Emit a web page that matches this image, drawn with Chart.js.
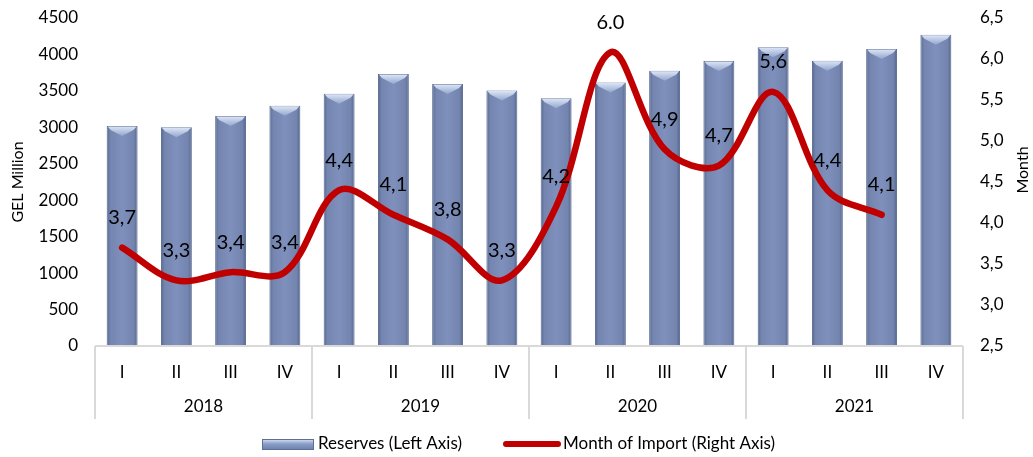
<!DOCTYPE html>
<html>
<head>
<meta charset="utf-8">
<script src="https://cdn.jsdelivr.net/npm/chart.js@4.4.1/dist/chart.umd.min.js"></script>
<style>
  html, body { margin: 0; padding: 0; background: #ffffff; }
  #wrap { width: 1033px; height: 457px; }
</style>
</head>
<body>
<div id="wrap"><canvas id="c" width="1033" height="457"></canvas></div>
<script>
const categories = ['I','II','III','IV','I','II','III','IV','I','II','III','IV','I','II','III','IV'];
const years = ['2018','2019','2020','2021'];
const reserves = [3020, 3000, 3155, 3295, 3460, 3730, 3595, 3505, 3400, 3615, 3775, 3910, 4100, 3915, 4075, 4270];
const monthsOfImport = [3.7, 3.3, 3.4, 3.4, 4.4, 4.1, 3.8, 3.3, 4.2, 6.08, 4.9, 4.7, 5.6, 4.4, 4.1, null];
const importLabels = ['3,7','3,3','3,4','3,4','4,4','4,1','3,8','3,3','4,2','6.0','4,9','4,7','5,6','4,4','4,1',''];
const seriesNames = ['Reserves (Left Axis)', 'Month of Import (Right Axis)'];
const leftTitle = 'GEL Million';
const rightTitle = 'Month';

const FONT = 'Lato, "Open Sans", sans-serif';
const TEXT = '#000000';
const BAR_PCT = 0.57;

function barFill(ctx) {
  const chart = ctx.chart;
  const xs = chart.scales.x;
  if (!xs || ctx.dataIndex === undefined) return '#7a8cb6';
  const cx = xs.getPixelForValue(ctx.dataIndex);
  const half = (xs.width / categories.length) * BAR_PCT / 2;
  if (!isFinite(cx) || !isFinite(half) || half <= 0) return '#7a8cb6';
  const g = chart.ctx.createLinearGradient(cx - half, 0, cx + half, 0);
  g.addColorStop(0, '#56678f');
  g.addColorStop(0.12, '#7485b0');
  g.addColorStop(0.5, '#7e90bb');
  g.addColorStop(0.88, '#7384af');
  g.addColorStop(1, '#52638b');
  return g;
}

const bevelPlugin = {
  id: 'bevel',
  afterDatasetDraw(chart, args) {
    if (args.index !== 0) return;
    const ctx = chart.ctx;
    const meta = chart.getDatasetMeta(0);
    ctx.save();
    meta.data.forEach(el => {
      const p = el.getProps(['x', 'y', 'width'], true);
      if (!isFinite(p.x) || !isFinite(p.y)) return;
      const l = p.x - p.width / 2 + 1, r = p.x + p.width / 2 - 1;
      const g = ctx.createLinearGradient(0, p.y, 0, p.y + 10);
      g.addColorStop(0, '#dfe8f8');
      g.addColorStop(1, '#93a6cd');
      ctx.fillStyle = g;
      ctx.beginPath();
      ctx.moveTo(l, p.y + 0.5);
      ctx.lineTo(r, p.y + 0.5);
      ctx.lineTo(r - 3, p.y + 4);
      ctx.lineTo(p.x, p.y + 10);
      ctx.lineTo(l + 3, p.y + 4);
      ctx.closePath();
      ctx.fill();
    });
    ctx.restore();
  }
};

const labelPlugin = {
  id: 'lineLabels',
  afterDatasetsDraw(chart) {
    const ctx = chart.ctx;
    const meta = chart.getDatasetMeta(1);
    ctx.save();
    ctx.fillStyle = TEXT;
    ctx.font = '20px ' + FONT;
    ctx.textAlign = 'center';
    ctx.textBaseline = 'middle';
    meta.data.forEach((pt, i) => {
      if (monthsOfImport[i] == null) return;
      ctx.fillText(importLabels[i], pt.x, pt.y - 30);
    });
    ctx.restore();
  }
};

const decorPlugin = {
  id: 'decor',
  afterDraw(chart) {
    const ctx = chart.ctx;
    const xs = chart.scales.x;
    const area = chart.chartArea;
    ctx.save();
    ctx.strokeStyle = '#d9d9d9';
    ctx.lineWidth = 2;
    ctx.beginPath();
    ctx.moveTo(xs.left, area.bottom);
    ctx.lineTo(xs.right, area.bottom);
    ctx.stroke();
    const step = xs.width / categories.length;
    const per = categories.length / years.length;
    for (let g = 0; g <= years.length; g++) {
      const x = xs.left + g * per * step;
      ctx.beginPath();
      ctx.moveTo(x, area.bottom);
      ctx.lineTo(x, area.bottom + 73);
      ctx.stroke();
    }
    ctx.fillStyle = TEXT;
    ctx.font = '17px ' + FONT;
    ctx.textAlign = 'center';
    ctx.textBaseline = 'middle';
    years.forEach((y, g) => {
      const x = xs.left + (g + 0.5) * per * step;
      ctx.fillText(y, x, area.bottom + 61);
    });
    ctx.save();
    ctx.translate(1023, 170);
    ctx.rotate(-Math.PI / 2);
    ctx.font = '16px ' + FONT;
    ctx.fillText(rightTitle, 0, 0);
    ctx.restore();
    const ly = 444;
    const sx = 262, sw = 52;
    const gb = ctx.createLinearGradient(0, ly - 5, 0, ly + 6);
    gb.addColorStop(0, '#dbe5f7');
    gb.addColorStop(0.45, '#8a9dc6');
    gb.addColorStop(1, '#6b7ea8');
    ctx.fillStyle = gb;
    ctx.fillRect(sx, ly - 5, sw, 11);
    ctx.strokeStyle = '#5d6f96';
    ctx.lineWidth = 1;
    ctx.strokeRect(sx + 0.5, ly - 4.5, sw - 1, 10);
    ctx.fillStyle = TEXT;
    ctx.font = '17px ' + FONT;
    ctx.textAlign = 'left';
    ctx.fillText(seriesNames[0], 318, ly);
    ctx.strokeStyle = '#c00000';
    ctx.lineWidth = 6;
    ctx.lineCap = 'round';
    ctx.beginPath();
    ctx.moveTo(506, ly);
    ctx.lineTo(558, ly);
    ctx.stroke();
    ctx.fillText(seriesNames[1], 563, ly);
    ctx.restore();
  }
};

function fixVPad(width) {
  return function (s) {
    s.width = width;
    s.paddingTop = 18;
    s.paddingBottom = 0;
  };
}

new Chart(document.getElementById('c'), {
  data: {
    labels: categories,
    datasets: [
      {
        type: 'bar',
        label: seriesNames[0],
        data: reserves,
        yAxisID: 'y',
        order: 2,
        backgroundColor: barFill,
        borderColor: '#56688f',
        borderWidth: 1,
        barPercentage: BAR_PCT,
        categoryPercentage: 1.0
      },
      {
        type: 'line',
        label: seriesNames[1],
        data: monthsOfImport,
        yAxisID: 'y1',
        order: 1,
        borderColor: '#c00000',
        borderWidth: 6.5,
        borderCapStyle: 'round',
        borderJoinStyle: 'round',
        tension: 0.35,
        pointRadius: 0,
        fill: false,
        spanGaps: false,
        clip: false
      }
    ]
  },
  options: {
    responsive: false,
    animation: false,
    layout: { padding: 0 },
    plugins: {
      legend: { display: false },
      tooltip: { enabled: false }
    },
    scales: {
      x: {
        type: 'category',
        grid: { display: false, drawTicks: false },
        border: { display: false },
        ticks: { color: TEXT, font: { family: FONT, size: 17 }, padding: 16, maxRotation: 0, autoSkip: false },
        afterFit(s) { s.height = 111; s.paddingLeft = 0; s.paddingRight = 0; }
      },
      y: {
        position: 'left',
        min: 0, max: 4500,
        grid: { display: false, drawTicks: false },
        border: { display: false },
        ticks: { stepSize: 500, color: TEXT, font: { family: FONT, size: 17 }, padding: 17, callback: v => String(v) },
        title: { display: true, text: leftTitle, color: TEXT, font: { family: FONT, size: 16 }, padding: { top: 8, bottom: 0 } },
        afterFit: fixVPad(95)
      },
      y1: {
        position: 'right',
        min: 2.5, max: 6.5,
        grid: { display: false, drawTicks: false },
        border: { display: false },
        ticks: {
          stepSize: 0.5, color: TEXT, font: { family: FONT, size: 17 }, padding: 17,
          callback: v => Number(v).toFixed(1).replace('.', ',')
        },
        afterFit: fixVPad(70)
      }
    }
  },
  plugins: [bevelPlugin, labelPlugin, decorPlugin]
});
</script>
</body>
</html>
